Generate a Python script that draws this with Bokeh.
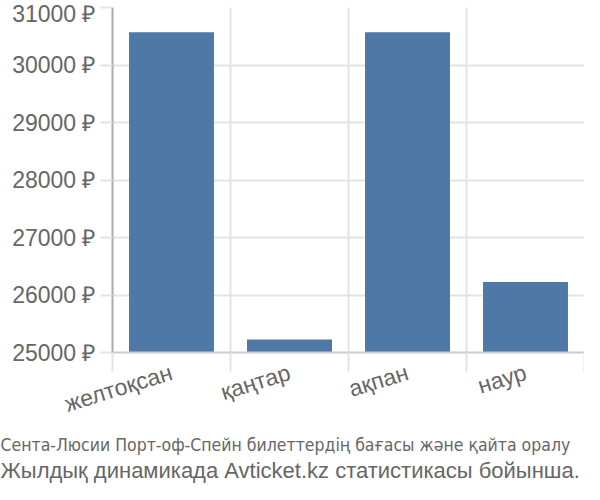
import math
from bokeh.plotting import figure
from bokeh.models import ColumnDataSource, FixedTicker, PrintfTickFormatter, Title, Range1d
from bokeh.embed import file_html
from bokeh.resources import INLINE

categories = ["желтоқсан", "қаңтар", "ақпан", "наур"]
prices = [30570, 25225, 30570, 26225]
y_ticks = [25000, 26000, 27000, 28000, 29000, 30000, 31000]
title_line1 = "Сента-Люсии Порт-оф-Спейн билеттердің бағасы және қайта оралу"
title_line2 = "Жылдық динамикада Avticket.kz статистикасы бойынша."

FONT = "Liberation Sans"
TXT = "#666666"
GRID = "#e3e3e3"
BAR = "#4e78a5"

xs = [i + 0.5 for i in range(len(categories))]
src = ColumnDataSource(dict(x=xs, top=prices, cat=categories))

p = figure(width=584, height=484, output_backend="svg", toolbar_location=None,
           x_range=Range1d(0, len(categories)), y_range=Range1d(25000, 31000),
           min_border_left=112, min_border_right=0, min_border_top=7,
           min_border_bottom=0)
p.outline_line_color = None
p.background_fill_color = "white"

p.vbar(x="x", top="top", bottom=25000, width=0.72, source=src,
       fill_color=BAR, line_color=None)

# x axis: labels at centers, boundary ticks as minor ticks
xa = p.xaxis[0]
xa.ticker = FixedTicker(ticks=xs, minor_ticks=list(range(len(categories) + 1)))
xa.major_label_overrides = {x: c for x, c in zip(xs, categories)}
xa.major_tick_line_color = None
xa.minor_tick_in = 0
xa.minor_tick_out = 19
xa.minor_tick_line_color = GRID
xa.minor_tick_line_width = 2
xa.axis_line_color = "#cccccc"
xa.axis_line_width = 2
xa.major_label_orientation = 0.3
xa.major_label_text_font = FONT
xa.major_label_text_font_size = "23px"
xa.major_label_text_color = TXT
xa.major_label_standoff = 0

ya = p.yaxis[0]
ya.ticker = FixedTicker(ticks=y_ticks)
ya.formatter = PrintfTickFormatter(format="%d ₽")
ya.major_tick_in = 0
ya.major_tick_out = 12
ya.major_tick_line_color = GRID
ya.major_tick_line_width = 2
ya.minor_tick_line_color = None
ya.axis_line_color = "#aaaaaa"
ya.axis_line_width = 2
ya.major_label_text_font = FONT
ya.major_label_text_font_size = "23px"
ya.major_label_text_color = TXT
ya.major_label_standoff = 5

p.xgrid.ticker = FixedTicker(ticks=list(range(len(categories) + 1)))
p.xgrid.grid_line_color = GRID
p.xgrid.grid_line_width = 2
p.ygrid.ticker = FixedTicker(ticks=y_ticks)
p.ygrid.grid_line_color = GRID
p.ygrid.grid_line_width = 2

t1 = Title(text=title_line1, align="left", offset=-112,
           text_font="'DejaVu Sans Condensed', 'Roboto Condensed', 'Liberation Sans Narrow', Roboto",
           text_font_size="17.5px", text_font_style="normal", text_color=TXT, standoff=0)
t2 = Title(text=title_line2, align="left", offset=-112, text_font=FONT,
           text_font_size="22px", text_font_style="normal", text_color=TXT, standoff=3)
p.add_layout(t1, "below")
p.add_layout(t2, "below")

open("out.html", "w").write(file_html(p, INLINE))
